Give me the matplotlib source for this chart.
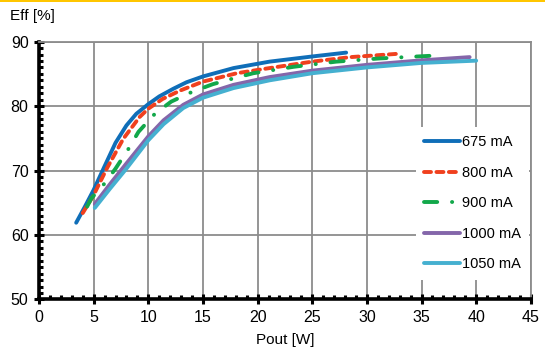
import numpy as np
import matplotlib
matplotlib.use("Agg")
import matplotlib.pyplot as plt
from matplotlib.patches import Rectangle
from matplotlib.ticker import MultipleLocator

plt.rcParams['font.family'] = ['Liberation Sans', 'DejaVu Sans']

# efficiency curves
x_675 = [3.4, 4.2, 5.0, 5.9, 7.0, 8.0, 8.9, 10.0, 11.0, 12.3, 13.5, 15.0, 17.8, 21.1, 25.0, 28.1]
y_675 = [61.9, 64.4, 67.0, 70.3, 74.3, 77.0, 78.8, 80.3, 81.5, 82.7, 83.7, 84.6, 85.9, 86.9, 87.7, 88.3]

x_800 = [4.0, 5.0, 6.2, 7.7, 9.2, 10.0, 11.3, 12.9, 15.0, 18.1, 21.1, 25.0, 28.5, 32.7]
y_800 = [63.4, 66.2, 70.3, 74.9, 78.3, 79.6, 81.1, 82.4, 83.8, 85.1, 85.9, 86.9, 87.6, 88.1]

x_900 = [4.4, 4.8, 6.0, 7.0, 8.2, 9.1, 10.6, 12.1, 14.0, 15.9, 17.8, 19.6, 23.3, 27.2, 31.2, 35.8]
y_900 = [64.4, 65.7, 68.0, 70.3, 73.4, 76.0, 78.8, 80.7, 82.2, 83.4, 84.3, 85.1, 86.1, 86.9, 87.4, 87.8]

x_1000 = [5.1, 6.5, 8.0, 10.0, 11.4, 13.2, 15.0, 17.8, 21.1, 25.0, 30.0, 35.0, 39.4]
y_1000 = [64.8, 67.9, 71.1, 75.3, 77.8, 80.2, 81.8, 83.3, 84.5, 85.5, 86.4, 87.1, 87.6]

x_1050 = [5.1, 6.5, 8.0, 10.0, 11.4, 13.2, 15.0, 17.8, 21.1, 25.0, 30.0, 35.0, 40.0]
y_1050 = [64.2, 67.2, 70.3, 74.7, 77.2, 79.7, 81.3, 82.8, 84.0, 85.1, 86.0, 86.7, 87.05]

labels = ['675 mA', '800 mA', '900 mA', '1000 mA', '1050 mA']
colors = ['#0F6EB8', '#F0401E', '#12A84A', '#8466AA', '#45B0D0']

fig = plt.figure(figsize=(5.45, 3.56), dpi=100)
ax = fig.add_axes([0.0716, 0.159, 0.9024, 0.724])

# yellow band at the very top
fig.add_artist(Rectangle((0, 0.993), 1, 0.007, transform=fig.transFigure,
                         color='#FFC600', lw=0))

lw = 2.8
ax.plot(x_675, y_675, color=colors[0], lw=lw, solid_capstyle='round',
        solid_joinstyle='round', label=labels[0])
ax.plot(x_800, y_800, color=colors[1], lw=lw, dashes=(1.8, 1.4),
        dash_capstyle='round', label=labels[1])
ax.plot(x_900, y_900, color=colors[2], lw=lw, dashes=(3.4, 3.8, 0.05, 3.8),
        dash_capstyle='round', label=labels[2])
ax.plot(x_1000, y_1000, color=colors[3], lw=lw, solid_capstyle='round',
        solid_joinstyle='round', label=labels[3])
ax.plot(x_1050, y_1050, color=colors[4], lw=lw, solid_capstyle='round',
        solid_joinstyle='round', label=labels[4])

ax.set_xlim(0, 45)
ax.set_ylim(50, 90)
ax.xaxis.set_major_locator(MultipleLocator(5))
ax.xaxis.set_minor_locator(MultipleLocator(1))
ax.yaxis.set_major_locator(MultipleLocator(10))
ax.yaxis.set_minor_locator(MultipleLocator(1))
ax.grid(True, which='major', color='#8C8C8C', lw=1.3)
ax.set_axisbelow(True)

for side in ['left', 'bottom']:
    ax.spines[side].set_color('black')
    ax.spines[side].set_linewidth(2.6)
for side in ['top', 'right']:
    ax.spines[side].set_color('#8C8C8C')
    ax.spines[side].set_linewidth(1.3)

ax.tick_params(which='major', direction='inout', length=7, width=2.2,
               labelsize=11.5, pad=4, top=False, right=False)
ax.tick_params(which='minor', direction='in', length=3, width=2.2,
               top=False, right=False)

ax.set_xlabel('Pout [W]', fontsize=11, labelpad=6)
fig.text(0.018, 0.955, 'Eff [%]', fontsize=11, ha='left', va='center')

leg = ax.legend(loc='upper left', bbox_to_anchor=(0.766, 0.669), frameon=True,
                fontsize=10.5, handlelength=2.5, handletextpad=0.1,
                labelspacing=1.14, borderpad=0.55, borderaxespad=0)
leg.get_frame().set_edgecolor('none')
leg.get_frame().set_facecolor('white')
leg.get_frame().set_alpha(1)
leg.get_frame().set_boxstyle('square', pad=0)

fig.savefig('out.png', dpi=100)
